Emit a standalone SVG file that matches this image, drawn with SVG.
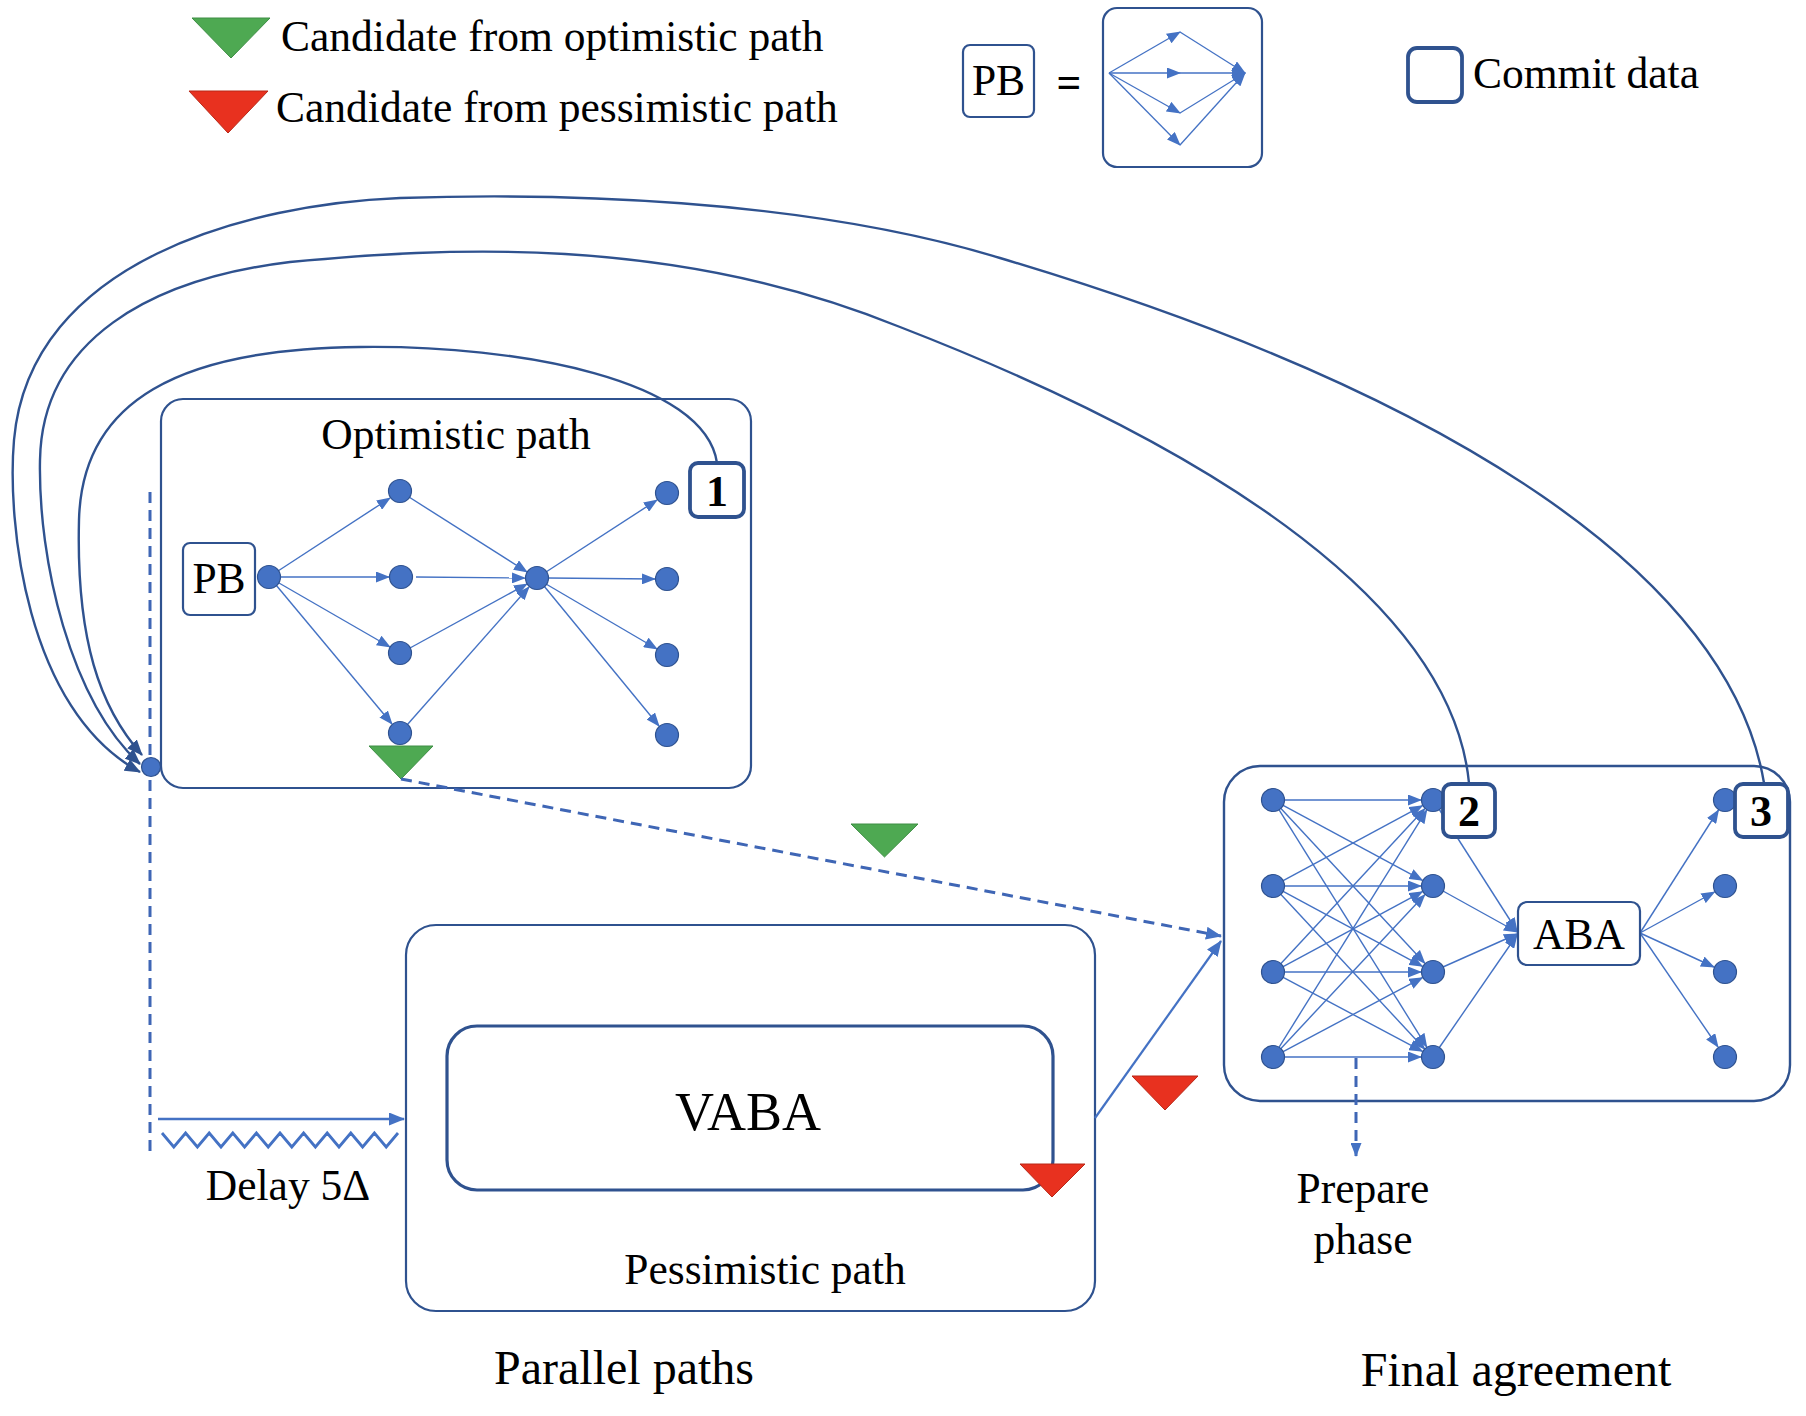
<svg xmlns="http://www.w3.org/2000/svg" width="1806" height="1416" viewBox="0 0 1806 1416">
<style>
text{font-family:"Liberation Serif","Times New Roman",serif;fill:#000}
.t{font-size:43.5px}
.big{font-size:48px}
.num{font-size:44px;font-weight:bold;text-anchor:middle}
.mid{text-anchor:middle}
.box{fill:#fff;stroke:#2F528F;stroke-width:2.2}
.cbox{fill:#fff;stroke:#2F528F;stroke-width:3.8}
.nd{fill:#4472C4;stroke:#2F528F;stroke-width:1.2}
.e{stroke:#4472C4;stroke-width:1.4;fill:none;marker-end:url(#ah)}
.el{stroke:#4472C4;stroke-width:1.3;fill:none;marker-end:url(#ahs)}
.arc{stroke:#2F528F;stroke-width:2.4;fill:none}
.dash{stroke:#3F66B5;stroke-width:3;fill:none;stroke-dasharray:11 7}
.g{fill:#4EA952;stroke:#3E8E45;stroke-width:1}
.r{fill:#E8311F;stroke:#B82818;stroke-width:1}
</style>
<defs>
<marker id="ah" markerUnits="userSpaceOnUse" markerWidth="14" markerHeight="11" refX="13" refY="5.5" orient="auto"><path d="M0,0 L14,5.5 L0,11 z" fill="#4472C4"/></marker>
<marker id="ahs" markerUnits="userSpaceOnUse" markerWidth="14" markerHeight="11" refX="13" refY="5.5" orient="auto"><path d="M0,0 L14,5.5 L0,11 z" fill="#4472C4"/></marker>
<marker id="ahd" markerUnits="userSpaceOnUse" markerWidth="16" markerHeight="13" refX="15" refY="6.5" orient="auto"><path d="M0,0 L16,6.5 L0,13 z" fill="#2F528F"/></marker>
<marker id="ahb" markerUnits="userSpaceOnUse" markerWidth="16" markerHeight="13" refX="15" refY="6.5" orient="auto"><path d="M0,0 L16,6.5 L0,13 z" fill="#4472C4"/></marker>
</defs>

<g id="legend">
<polygon class="g" points="192,18 270,18 231,58"/>
<text class="t" x="281" y="51">Candidate from optimistic path</text>
<polygon class="r" points="189,91 268,91 228,133"/>
<text class="t" x="276" y="122">Candidate from pessimistic path</text>
<rect class="box" x="963" y="45" width="71" height="72" rx="7"/>
<text class="t mid" x="998.5" y="95">PB</text>
<text class="t mid" x="1069" y="97" font-weight="bold">=</text>
<rect class="box" x="1103" y="8" width="159" height="159" rx="14"/>
<line class="el" x1="1109" y1="73" x2="1180" y2="32"/>
<line class="el" x1="1109" y1="73" x2="1180" y2="73"/>
<line class="el" x1="1109" y1="73" x2="1180" y2="113"/>
<line class="el" x1="1109" y1="73" x2="1180" y2="145"/>
<line class="el" x1="1180" y1="32" x2="1245" y2="73"/>
<line class="el" x1="1180" y1="73" x2="1245" y2="73"/>
<line class="el" x1="1180" y1="113" x2="1245" y2="73"/>
<line class="el" x1="1180" y1="145" x2="1245" y2="73"/>
<rect class="cbox" x="1408" y="48" width="54" height="54" rx="9"/>
<text class="t" x="1473" y="88">Commit data</text>
</g>

<g id="optimistic">
<rect class="box" x="161" y="399" width="590" height="389" rx="22"/>
<text class="t mid" x="456" y="449">Optimistic path</text>
<rect class="box" x="183" y="543" width="72" height="72" rx="7"/>
<text class="t mid" x="219" y="593">PB</text>
<line class="e" x1="278" y1="571" x2="390" y2="498"/>
<line class="e" x1="280" y1="577" x2="389" y2="577"/>
<line class="e" x1="279" y1="583" x2="390" y2="647"/>
<line class="e" x1="276" y1="585" x2="392" y2="724"/>
<line class="e" x1="409" y1="497" x2="527" y2="572"/>
<line class="e" x1="416" y1="577" x2="525" y2="578"/>
<line class="e" x1="410" y1="648" x2="527" y2="584"/>
<line class="e" x1="407" y1="725" x2="529" y2="587"/>
<line class="e" x1="546" y1="572" x2="657" y2="500"/>
<line class="e" x1="548" y1="578" x2="655" y2="579"/>
<line class="e" x1="546" y1="584" x2="657" y2="649"/>
<line class="e" x1="544" y1="586" x2="659" y2="726"/>
<circle class="nd" cx="269" cy="577" r="11.5"/>
<circle class="nd" cx="400" cy="491" r="11.5"/>
<circle class="nd" cx="401" cy="577" r="11.5"/>
<circle class="nd" cx="400" cy="653" r="11.5"/>
<circle class="nd" cx="400" cy="733" r="11.5"/>
<circle class="nd" cx="537" cy="578" r="11.5"/>
<circle class="nd" cx="667" cy="493" r="11.5"/>
<circle class="nd" cx="667" cy="579" r="11.5"/>
<circle class="nd" cx="667" cy="655" r="11.5"/>
<circle class="nd" cx="667" cy="735" r="11.5"/>
<rect class="cbox" x="690" y="463" width="54" height="54" rx="8"/>
<text class="num" x="717" y="506">1</text>
<polygon class="g" points="369,746 433,746 401,779"/>
</g>

<g id="pessimistic">
<rect class="box" x="406" y="925" width="689" height="386" rx="30"/>
<rect x="447" y="1026" width="606" height="164" rx="30" fill="#fff" stroke="#2F528F" stroke-width="3.2"/>
<text class="mid" x="748" y="1130" font-size="54">VABA</text>
<polygon class="r" points="1020,1164 1085,1164 1052,1197"/>
<text class="t mid" x="765" y="1284">Pessimistic path</text>
</g>

<g id="delay">
<line x1="158" y1="1119" x2="404" y2="1119" stroke="#4472C4" stroke-width="2.4" marker-end="url(#ahb)"/>
<polyline points="162,1133 173.8,1147 185.6,1133 197.4,1147 209.2,1133 221,1147 232.8,1133 244.6,1147 256.4,1133 268.2,1147 280,1133 291.8,1147 303.6,1133 315.4,1147 327.2,1133 339,1147 350.8,1133 362.6,1147 374.4,1133 386.2,1147 398,1133" fill="none" stroke="#4472C4" stroke-width="2.8"/>
<text class="t mid" x="288" y="1200">Delay 5Δ</text>
</g>

<g id="final">
<rect x="1224" y="766" width="566" height="335" rx="36" fill="#fff" stroke="#2F528F" stroke-width="2.4"/>
<g>
<line class="e" x1="1284" y1="800" x2="1421" y2="800"/>
<line class="e" x1="1282.7" y1="805.2" x2="1422.4" y2="880.3"/>
<line class="e" x1="1280.5" y1="808.1" x2="1424.8" y2="963.2"/>
<line class="e" x1="1278.8" y1="809.3" x2="1426.7" y2="1046.8"/>
<line class="e" x1="1282.7" y1="880.8" x2="1422.4" y2="805.7"/>
<line class="e" x1="1284" y1="886" x2="1421" y2="886"/>
<line class="e" x1="1282.7" y1="891.2" x2="1422.4" y2="966.3"/>
<line class="e" x1="1280.5" y1="894.1" x2="1424.8" y2="1049.2"/>
<line class="e" x1="1280.5" y1="963.9" x2="1424.8" y2="808.8"/>
<line class="e" x1="1282.7" y1="966.8" x2="1422.4" y2="891.7"/>
<line class="e" x1="1284" y1="972" x2="1421" y2="972"/>
<line class="e" x1="1282.7" y1="977.2" x2="1422.4" y2="1051.3"/>
<line class="e" x1="1278.8" y1="1047.7" x2="1426.7" y2="810.2"/>
<line class="e" x1="1280.5" y1="1048.9" x2="1424.8" y2="894.8"/>
<line class="e" x1="1282.7" y1="1051.8" x2="1422.4" y2="977.7"/>
<line class="e" x1="1284" y1="1057" x2="1421" y2="1057"/>
</g>
<line class="e" x1="1439" y1="809" x2="1517" y2="931"/>
<line class="e" x1="1443" y1="891" x2="1517" y2="932"/>
<line class="e" x1="1443" y1="967" x2="1517" y2="934"/>
<line class="e" x1="1439" y1="1048" x2="1517" y2="935"/>
<line class="e" x1="1640" y1="933" x2="1718.5" y2="810"/>
<line class="e" x1="1640" y1="933" x2="1714.5" y2="892"/>
<line class="e" x1="1640" y1="933" x2="1714" y2="967"/>
<line class="e" x1="1640" y1="933" x2="1718" y2="1047"/>
<circle class="nd" cx="1273" cy="800" r="11.5"/>
<circle class="nd" cx="1273" cy="886" r="11.5"/>
<circle class="nd" cx="1273" cy="972" r="11.5"/>
<circle class="nd" cx="1273" cy="1057" r="11.5"/>
<circle class="nd" cx="1433" cy="800" r="11.5"/>
<circle class="nd" cx="1433" cy="886" r="11.5"/>
<circle class="nd" cx="1433" cy="972" r="11.5"/>
<circle class="nd" cx="1433" cy="1057" r="11.5"/>
<circle class="nd" cx="1725" cy="800" r="11.5"/>
<circle class="nd" cx="1725" cy="886" r="11.5"/>
<circle class="nd" cx="1725" cy="972" r="11.5"/>
<circle class="nd" cx="1725" cy="1057" r="11.5"/>
<rect class="box" x="1518" y="902" width="122" height="63" rx="9"/>
<text class="t mid" x="1579" y="949">ABA</text>
<rect class="cbox" x="1443" y="784" width="52" height="53" rx="8"/>
<text class="num" x="1469" y="826">2</text>
<rect class="cbox" x="1735" y="784" width="53" height="53" rx="8"/>
<text class="num" x="1761" y="826">3</text>
</g>

<g id="connectors">
<line class="dash" x1="150" y1="492" x2="150" y2="1155"/>
<path class="arc" marker-end="url(#ahd)" d="M717,463 C705,380 520,345 360,347 C180,349 82,400 79,520 C76,640 100,708 142,755"/>
<path class="arc" marker-end="url(#ahd)" d="M1469,783 C1452,610 1230,455 900,327 C670,233 440,248 290,262 C150,279 42,340 40,460 C38,560 70,700 140,764"/>
<path class="arc" marker-end="url(#ahd)" d="M1764,783 C1730,580 1460,395 1000,258 C800,197 550,193 400,198 C250,204 30,260 14,440 C7,520 25,710 140,772"/>
<line class="dash" x1="401" y1="779" x2="1221" y2="936" marker-end="url(#ahb)"/>
<line x1="1095" y1="1118" x2="1221" y2="941" stroke="#4472C4" stroke-width="2.2" marker-end="url(#ahb)"/>
<line class="dash" x1="1356" y1="1058" x2="1356" y2="1156" marker-end="url(#ahs)"/>
<circle class="nd" cx="151" cy="767" r="9.5"/>
<polygon class="g" points="851,824 918,824 884.5,857"/>
<polygon class="r" points="1132,1076 1198,1076 1165,1110"/>
</g>

<g id="labels">
<text class="t mid" x="1363" y="1203">Prepare</text>
<text class="t mid" x="1363" y="1254">phase</text>
<text class="big mid" x="624" y="1384">Parallel paths</text>
<text class="big mid" x="1516" y="1386">Final agreement</text>
</g>
</svg>
